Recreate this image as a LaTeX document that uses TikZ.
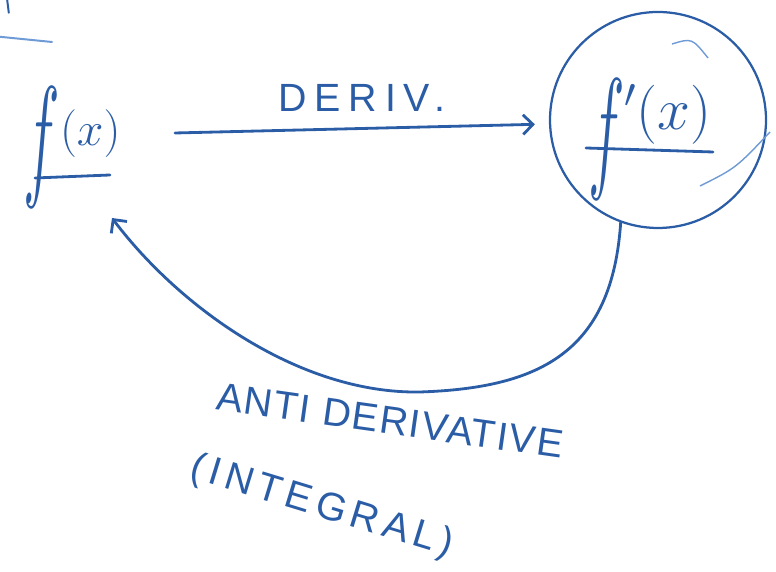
\documentclass[tikz,border=0pt]{standalone}
\usepackage{fix-cm}
\usepackage{fontspec}
\setsansfont{Liberation Sans}
\usepackage{xcolor}
\definecolor{penblue}{HTML}{2B5DA6}
\definecolor{penlight}{HTML}{6E9BD6}
\usetikzlibrary{
  arrows.meta,
  calc,
}
% tall hand-drawn f
\newcommand{\tallf}[1]{\raisebox{#1}{\scalebox{1}[2.2]{\fontsize{44}{44}\selectfont$f$}}}

\begin{document}
\begin{tikzpicture}[
  func/.style={
    font=\fontsize{34}{38}\selectfont, text=penblue, inner sep=2pt,
  },
  ring/.style={
    draw=penblue, line width=1.6pt, circle, minimum size=5.4cm,
  },
  pen/.style={
    draw=penblue, line width=2pt, line cap=round,
  },
  flow/.style={
    pen, -{Straight Barb[length=7pt,width=14pt,line width=2pt]},
  },
  hand/.style={
    font=\sffamily\fontsize{28}{32}\selectfont, text=penblue, inner sep=0pt,
  },
]
  \useasboundingbox (0,0) rectangle (19.4,14.3);

  % strokes left over from the page above
  \draw[pen, draw=penlight, line width=1.4pt] (0,13.38) -- (1.3,13.25);
  \draw[pen, line width=1.4pt] (0.18,14.3) -- (0.22,13.98);

  % Functions
  \node[func] (fx) at (1.8,10.62) {\tallf{-0.9cm}$(x)$};
  \draw[pen] ($(fx.center)+(-0.925,-0.77)$) -- ($(fx.center)+(0.95,-0.695)$);

  \node[func, font=\fontsize{42}{46}\selectfont] (fpx) at (16.25,10.82)
    {\tallf{-1.1cm}$'(x)$};
  \draw[pen] ($(fpx.center)+(-1.6,-0.22)$) -- ($(fpx.center)+(1.575,-0.32)$);

  % Ring round f'(x)
  \node[ring] (fring) at (16.45,11.3) {};
  \draw[draw=penlight, line width=1pt] (16.8,13.2) .. controls (17.3,13.35) .. (17.7,12.85);
  \draw[draw=penlight, line width=1pt] (17.5,9.65) .. controls (18.4,10.1) .. (19.25,11.0);

  % Derivative
  \draw[flow, shorten >=0.35cm]
    ($(fx.center)+(2.575,0.355)$) -- node[hand, above=0.4cm,
      font=\sffamily\fontsize{28}{32}\selectfont\addfontfeature{LetterSpace=20}]
      (deriv) {DERIV.} ([yshift=-0.1cm]fring.west);

  % Antiderivative
  \draw[flow]
    (fring.-110) .. controls (15.3,5.5) and (13.5,4.6) .. (10.5,4.5)
    .. controls (7.5,4.45) and (4.5,6.6) .. ($(fx.center)+(1.0,-1.77)$);

  \node[hand, rotate=-8, font=\sffamily\fontsize{28}{32}\selectfont\addfontfeature{LetterSpace=4}]
    (anti) at (9.75,3.78) {ANTI DERIVATIVE};
  \node[hand, rotate=-17, font=\sffamily\fontsize{28}{32}\selectfont\addfontfeature{LetterSpace=14}]
    (integ) at (8.05,1.62) {(INTEGRAL)};
\end{tikzpicture}
\end{document}
